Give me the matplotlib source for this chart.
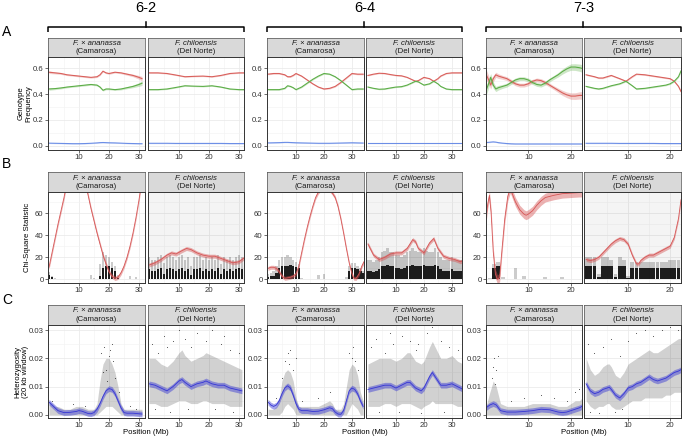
import numpy as np
import matplotlib
matplotlib.use("Agg")
import matplotlib.pyplot as plt
from matplotlib.ticker import FixedLocator

plt.rcParams['font.family'] = ['Liberation Sans', 'DejaVu Sans']

# Chromosome groups, genomes and panel letters
groups = ["6-2", "6-4", "7-3"]
genomes = ["F. × ananassa", "F. chiloensis"]
cultivars = ["(Camarosa)", "(Del Norte)"]
row_letters = ["A", "B", "C"]
row_ylabels = ["Genotype\nFrequency", "Chi-Square Statistic", "Heterozygosity\n(20 kb window)"]
x_label = "Position (Mb)"

# ***********
#  ROW A: genotype frequency (smoothed)
# ***********
a62_cam_x = [0, 2, 4, 6, 8, 10, 12, 14, 16, 17, 18, 19, 20, 22, 24, 26, 28, 30, 31]
a62_cam_red = [.57, .565, .56, .55, .545, .54, .535, .53, .535, .55, .578, .565, .56, .57, .565, .555, .545, .53, .52]
a62_cam_green = [.44, .443, .448, .455, .46, .465, .47, .475, .47, .455, .43, .44, .44, .435, .44, .45, .46, .475, .485]
a62_cam_blue = [.02, .019, .018, .017, .016, .016, .017, .019, .022, .024, .025, .024, .023, .022, .02, .018, .017, .016, .016]
a62_cam_se = [.01, .008, .007, .006, .006, .006, .006, .006, .006, .006, .006, .006, .006, .006, .007, .008, .01, .014, .018]

a62_dn_x = [0, 3, 6, 9, 12, 15, 18, 21, 24, 27, 30, 32]
a62_dn_red = [.565, .565, .56, .548, .535, .538, .54, .535, .545, .56, .565, .565]
a62_dn_green = [.435, .435, .44, .452, .465, .462, .46, .465, .455, .44, .435, .435]
a62_dn_blue = [.019, .019, .019, .018, .018, .018, .018, .018, .018, .017, .017, .017]
a62_dn_se = [.004, .004, .004, .004, .004, .004, .004, .004, .004, .004, .004, .004]

a64_cam_x = [0, 2, 4, 6, 7, 8, 9, 10, 12, 14, 16, 18, 20, 22, 24, 26, 28, 30, 32, 34]
a64_cam_red = [.555, .56, .56, .55, .535, .535, .545, .56, .54, .51, .48, .455, .44, .445, .46, .49, .525, .56, .555, .555]
a64_cam_green = [.435, .435, .435, .445, .465, .46, .45, .435, .455, .485, .515, .54, .56, .555, .535, .505, .47, .435, .44, .44]
a64_cam_blue = [.022, .023, .024, .026, .026, .025, .024, .023, .022, .021, .02, .019, .019, .019, .02, .021, .022, .023, .022, .021]
a64_cam_se = [.005, .005, .005, .005, .005, .005, .005, .005, .005, .005, .005, .005, .005, .005, .005, .005, .005, .005, .005, .005]

a64_dn_x = [0, 2, 4, 6, 8, 10, 12, 14, 16, 17, 18, 20, 22, 23.5, 25, 26, 28, 30, 32, 34]
a64_dn_red = [.545, .555, .562, .56, .552, .545, .542, .53, .51, .5, .505, .53, .52, .5, .52, .54, .56, .565, .565, .565]
a64_dn_green = [.455, .445, .438, .44, .448, .455, .458, .47, .49, .5, .495, .47, .48, .5, .48, .46, .44, .435, .435, .435]
a64_dn_blue = [.018, .018, .018, .018, .018, .018, .018, .018, .018, .018, .018, .018, .018, .018, .018, .018, .018, .018, .018, .018]
a64_dn_se = [.004, .004, .004, .004, .004, .004, .004, .004, .004, .004, .004, .004, .004, .004, .004, .004, .004, .004, .004, .004]

a73_cam_x = [0, 0.6, 1.2, 1.8, 2.4, 3, 4, 5, 6, 7, 8, 9, 10, 11, 12, 13, 14, 15, 16, 17, 18, 19, 20, 21, 22, 22.6]
a73_cam_red = [.56, .52, .47, .52, .55, .54, .53, .52, .5, .48, .47, .47, .48, .5, .51, .505, .49, .47, .45, .43, .41, .395, .385, .385, .39, .39]
a73_cam_green = [.42, .47, .53, .47, .44, .45, .46, .47, .49, .51, .52, .52, .51, .49, .475, .47, .485, .51, .53, .55, .575, .595, .61, .61, .605, .6]
a73_cam_blue = [.025, .026, .028, .03, .028, .024, .02, .017, .015, .014, .014, .014, .014, .014, .014, .014, .014, .014, .014, .014, .014, .014, .014, .014, .014, .014]
a73_cam_se = [.04, .035, .03, .025, .02, .018, .015, .015, .015, .015, .015, .015, .015, .015, .015, .015, .015, .015, .015, .017, .02, .022, .025, .026, .028, .03]

a73_dn_x = [0, 2, 3, 4, 6, 8, 9.5, 11, 12, 14, 16, 18, 19, 20, 21, 22, 22.6]
a73_dn_red = [.55, .535, .525, .525, .545, .52, .5, .535, .555, .55, .54, .53, .525, .52, .5, .46, .42]
a73_dn_green = [.46, .445, .44, .445, .465, .48, .5, .465, .44, .445, .455, .465, .47, .48, .5, .535, .58]
a73_dn_blue = [.019, .019, .019, .019, .019, .018, .018, .018, .018, .018, .018, .017, .017, .017, .017, .017, .017]
a73_dn_se = [.005, .005, .005, .005, .005, .005, .005, .005, .005, .005, .005, .005, .005, .005, .005, .006, .008]

# ***********
#  ROW B: chi-square statistic (smoothed curve + per-site values)
# ***********
b62_cam_x = [0, 1, 2, 3, 4, 5, 6, 12, 12.8, 14, 15, 16, 17, 18, 19, 20, 21, 22, 23, 24, 25, 26, 27, 28, 29, 30, 31]
b62_cam_chi = [11, 24, 37, 50, 62, 74, 88, 88, 79, 64, 53, 42, 32, 22, 14, 7, 3, 1, 2, 6, 12, 20, 30, 42, 56, 72, 90]
b62_cam_se = 2
b62_cam_sx = [0, 1, 2, 3, 4, 5, 6, 7, 8, 9, 10, 11, 12, 13, 14, 15, 16, 17, 18, 19, 20, 21, 22, 23, 24, 25, 26, 27, 28, 29, 30, 31]
b62_cam_core = [4, 2, 0, 0, 0, 0, 0, 0, 0, 0, 0, 0, 0, 0, 0, 0, 0, 3, 10, 12, 12, 10, 8, 1, 0, 0, 0, 0, 0, 0, 0, 0]
b62_cam_mid = [7, 3, 1, 0, 0, 0, 0, 0, 0, 0, 0, 0, 0, 0, 4, 1, 0, 14, 25, 22, 20, 16, 12, 4, 0, 0, 0, 3, 0, 2, 0, 0]
b62_cam_top = [0, 0, 0, 0, 0, 0, 0, 0, 0, 0, 0, 0, 0, 0, 0, 0, 0, 0, 0, 0, 0, 0, 0, 0, 0, 0, 0, 0, 0, 0, 0, 0]

b62_dn_x = [0, 2, 4, 6, 7.5, 9, 11, 12.5, 14, 16, 18, 20, 22, 24, 26, 28, 30, 32]
b62_dn_chi = [13, 15, 18, 22, 24, 23, 26, 28, 27, 24, 22, 21, 21, 19, 17, 15, 16, 20]
b62_dn_se = 1.8
b62_dn_sx = [0, 1, 2, 3, 4, 5, 6, 7, 8, 9, 10, 11, 12, 13, 14, 15, 16, 17, 18, 19, 20, 21, 22, 23, 24, 25, 26, 27, 28, 29, 30, 31, 32]
b62_dn_core = [9, 8, 8, 9, 10, 5, 9, 10, 9, 8, 9, 10, 8, 9, 4, 9, 9, 10, 8, 9, 8, 9, 8, 10, 5, 9, 8, 9, 8, 9, 10, 9, 9]
b62_dn_mid = [20, 18, 18, 20, 22, 15, 20, 22, 20, 18, 20, 22, 18, 20, 12, 20, 20, 22, 18, 20, 18, 20, 18, 22, 14, 20, 18, 20, 18, 20, 22, 20, 20]
b62_dn_top = [79, 79, 79, 79, 79, 79, 79, 79, 79, 79, 79, 79, 79, 79, 79, 79, 79, 79, 79, 79, 79, 79, 79, 79, 79, 79, 79, 79, 79, 79, 79, 79, 79]

b64_cam_x = [0, 1, 2, 3, 4, 5, 6, 7, 8, 9, 10, 11, 12, 13, 14, 15, 16, 17, 18, 19, 20, 21, 22, 23, 24, 25, 26, 27, 28, 29, 30, 30.7, 31.5, 32.5, 33.5, 34.3]
b64_cam_chi = [10, 11, 11, 10, 7, 3, 1, 1.5, 2, 3, 5, 12, 24, 36, 47, 57, 66, 74, 79, 82, 83, 83, 81, 78, 74, 66, 55, 42, 28, 15, 5, 1, 1, 5, 12, 16]
b64_cam_se = 1.8
b64_cam_sx = [0, 1, 2, 3, 4, 5, 6, 7, 8, 9, 10, 11, 12, 13, 14, 15, 16, 17, 18, 19, 20, 21, 22, 23, 24, 25, 26, 27, 28, 29, 30, 31, 32, 33, 34]
b64_cam_core = [2, 3, 3, 6, 10, 12, 12, 12, 13, 12, 11, 10, 0, 0, 0, 0, 0, 0, 0, 0, 0, 0, 0, 0, 0, 0, 0, 0, 0, 8, 10, 10, 9, 8, 6]
b64_cam_mid = [5, 6, 8, 12, 18, 20, 20, 22, 20, 18, 16, 14, 1, 0, 0, 0, 0, 0, 4, 0, 5, 0, 0, 0, 0, 0, 0, 0, 2, 12, 15, 15, 12, 10, 8]
b64_cam_top = [0, 0, 0, 0, 0, 0, 0, 0, 0, 0, 0, 0, 0, 0, 0, 0, 0, 0, 0, 0, 0, 0, 0, 0, 0, 0, 0, 0, 0, 0, 0, 0, 0, 0, 0]

b64_dn_x = [0, 2, 4, 6, 8, 10, 12, 14, 16, 17, 18, 20, 22, 23.5, 25, 27, 29, 31, 33, 34]
b64_dn_chi = [32, 22, 18, 20, 23, 24, 24, 28, 36, 34, 28, 24, 33, 37, 28, 21, 19, 18, 16, 17]
b64_dn_se = 1.8
b64_dn_sx = [0, 1, 2, 3, 4, 5, 6, 7, 8, 9, 10, 11, 12, 13, 14, 15, 16, 17, 18, 19, 20, 21, 22, 23, 24, 25, 26, 27, 28, 29, 30, 31, 32, 33, 34]
b64_dn_core = [8, 8, 7, 8, 9, 12, 12, 13, 12, 12, 10, 10, 9, 10, 12, 12, 13, 12, 12, 12, 13, 12, 12, 12, 13, 12, 9, 8, 8, 8, 9, 8, 8, 8, 7]
b64_dn_mid = [18, 18, 16, 18, 20, 25, 26, 28, 25, 25, 22, 22, 20, 22, 25, 26, 28, 26, 25, 25, 28, 26, 25, 25, 28, 25, 20, 18, 18, 18, 20, 18, 18, 18, 16]
b64_dn_top = [79, 79, 79, 79, 79, 79, 79, 79, 79, 79, 79, 79, 79, 79, 79, 79, 79, 79, 79, 79, 79, 79, 79, 79, 79, 79, 79, 79, 79, 79, 79, 79, 79, 79, 79]

b73_cam_x = [0.1, 0.5, 0.9, 1.3, 1.8, 2.3, 2.8, 3.3, 3.8, 4.5, 5.2, 5.8, 7, 8, 9, 9.5, 10, 11, 12, 13, 14, 16, 18, 20, 22, 22.6]
b73_cam_chi = [55, 68, 76, 60, 25, 5, 0, 2, 25, 55, 75, 82, 70, 63, 59, 58, 59, 62, 67, 71, 74, 76, 77.5, 78, 78.5, 78.5]
b73_cam_se = 4
b73_cam_sx = [0, 1, 2, 3, 4, 5, 6, 7, 8, 9, 10, 11, 12, 13, 14, 15, 16, 17, 18, 19, 20, 21, 22]
b73_cam_core = [3, 0, 10, 12, 0, 0, 0, 0, 0, 0, 0, 0, 0, 0, 0, 0, 0, 0, 0, 0, 0, 0, 0]
b73_cam_mid = [5, 1, 14, 16, 2, 0, 0, 10, 0, 3, 0, 0, 0, 0, 2, 0, 0, 0, 2, 0, 0, 0, 0]
b73_cam_top = [0, 0, 0, 0, 0, 0, 0, 0, 0, 0, 0, 0, 0, 0, 0, 0, 0, 0, 0, 0, 0, 0, 0]

b73_dn_x = [0, 1, 2, 3, 4, 5, 6, 7, 8, 9, 10, 11, 12, 12.5, 13, 14, 15, 16, 17, 18, 19, 20, 21, 22, 22.6]
b73_dn_chi = [18, 17, 18, 20, 24, 28, 32, 35, 37, 36, 32, 22, 14, 14, 17, 20, 22, 22, 24, 26, 28, 30, 38, 55, 72]
b73_dn_se = 1.8
b73_dn_sx = [0, 1, 2, 3, 4, 5, 6, 7, 8, 9, 10, 11, 12, 13, 14, 15, 16, 17, 18, 19, 20, 21, 22]
b73_dn_core = [12, 12, 12, 2, 12, 12, 12, 2, 12, 12, 1, 10, 10, 10, 10, 10, 10, 10, 10, 10, 10, 10, 10]
b73_dn_mid = [20, 20, 20, 5, 20, 20, 18, 5, 20, 18, 3, 16, 16, 16, 16, 16, 16, 16, 16, 16, 18, 18, 18]
b73_dn_top = [79, 79, 79, 79, 79, 79, 79, 79, 79, 79, 79, 79, 79, 79, 79, 79, 79, 79, 79, 79, 79, 79, 79]

# ***********
#  ROW C: heterozygosity (smoothed curve, spread of the windows, scattered windows)
# ***********
c62_cam_x = [0, 1, 2, 3, 5, 7, 9, 10, 11, 13, 14, 15, 16, 17, 18, 19, 20, 21, 22, 23, 24, 25, 26, 28, 30, 31]
c62_cam_het = [.0045, .0035, .0025, .0015, .0008, .0009, .0012, .0015, .0013, .0005, .0004, .0008, .002, .004, .0065, .0085, .0093, .009, .0075, .005, .0025, .0008, .0006, .0006, .0004, .0003]
c62_cam_lo = [0, 0, 0, 0, 0, 0, 0, 0, 0, 0, 0, 0, 0, .001, .002, .003, .003, .003, .002, .001, 0, 0, 0, 0, 0, 0]
c62_cam_hi = [.005, .004, .003, .003, .002, .002, .003, .003, .003, .002, .002, .002, .004, .012, .018, .02, .02, .018, .015, .01, .004, .002, .002, .002, .002, .002]
c62_cam_pt_x = [17.5, 18.5, 19, 20.5, 21.5, 22, 19.5, 18, 1, 8, 12, 27, 29, 23.5, 20, 21]
c62_cam_pt_y = [.022, .024, .016, .023, .019, .013, .012, .015, .005, .004, .003, .003, .002, .008, .021, .025]

c62_dn_x = [0, 2, 4, 6, 8, 10, 11, 12, 14, 16, 18, 19, 21, 23, 25, 27, 29, 31]
c62_dn_het = [.011, .0105, .0095, .0085, .01, .012, .0125, .0115, .01, .011, .0115, .012, .011, .0105, .0105, .0095, .009, .0085]
c62_dn_lo = [.004, .004, .003, .003, .004, .005, .005, .005, .004, .004, .005, .005, .004, .004, .004, .003, .003, .003]
c62_dn_hi = [.02, .02, .018, .017, .019, .022, .023, .021, .019, .02, .021, .022, .021, .02, .019, .018, .017, .016]
c62_dn_pt_x = [1, 3, 5, 8, 10, 12, 14, 16, 19, 21, 24, 27, 30, 2, 7, 13, 22, 28, 6, 25]
c62_dn_pt_y = [.025, .022, .028, .026, .03, .027, .024, .029, .026, .03, .025, .023, .022, .002, .001, .002, .002, .001, .024, .028]

c64_cam_x = [0, 1, 2, 3, 4, 5, 6, 7, 8, 9, 10, 11, 12, 14, 16, 18, 20, 22, 23, 24, 25, 26, 27, 28, 29, 30, 31, 32, 33, 34]
c64_cam_het = [.0045, .0035, .003, .0035, .005, .0075, .0095, .0103, .0095, .007, .004, .002, .0015, .0015, .0012, .0013, .0018, .0025, .0022, .001, .0003, .0002, .0015, .005, .0085, .0095, .009, .0075, .005, .003]
c64_cam_lo = [0, 0, 0, 0, 0, .001, .003, .004, .003, .002, 0, 0, 0, 0, 0, 0, 0, 0, 0, 0, 0, 0, 0, 0, .002, .004, .003, .002, 0, 0]
c64_cam_hi = [.002, .002, .002, .003, .006, .012, .015, .016, .015, .012, .006, .003, .003, .003, .003, .003, .004, .005, .004, .002, .002, .002, .004, .01, .016, .018, .017, .014, .008, .005]
c64_cam_pt_x = [6, 7, 8, 10, 5, 9, 29, 30, 31, 32, 12, 18, 22, 3, 7.5, 30.5]
c64_cam_pt_y = [.019, .022, .023, .02, .013, .016, .022, .02, .019, .016, .005, .006, .008, .006, .018, .024]

c64_dn_x = [0, 2, 4, 6, 8, 10, 12, 14, 15, 17, 19, 20, 22, 23, 24, 26, 28, 30, 32, 34]
c64_dn_het = [.009, .0095, .01, .0105, .0105, .0095, .0105, .0115, .0115, .0095, .0085, .0095, .0135, .015, .0135, .0105, .0105, .011, .01, .009]
c64_dn_lo = [.003, .003, .003, .004, .004, .003, .004, .004, .004, .003, .002, .003, .004, .005, .004, .004, .004, .004, .003, .003]
c64_dn_hi = [.018, .019, .02, .02, .02, .019, .02, .022, .022, .019, .018, .019, .024, .026, .024, .02, .02, .021, .019, .018]
c64_dn_pt_x = [1, 3, 6, 9, 12, 15, 18, 21, 23, 26, 29, 32, 4, 11, 19, 27, 8, 17]
c64_dn_pt_y = [.024, .027, .022, .025, .028, .026, .025, .029, .031, .026, .024, .023, .001, .001, .0005, .001, .029, .023]

c73_cam_x = [0.1, 1, 1.8, 2.5, 3.5, 5, 7, 9, 11, 13, 15, 17, 18, 19, 20, 21, 22, 22.6]
c73_cam_het = [.0025, .0035, .004, .0035, .0015, .001, .001, .0012, .0015, .002, .0018, .001, .0008, .001, .0015, .002, .0025, .003]
c73_cam_lo = [0, 0, 0, 0, 0, 0, 0, 0, 0, 0, 0, 0, 0, 0, 0, 0, 0, 0]
c73_cam_hi = [.003, .008, .012, .01, .004, .003, .003, .003, .004, .004, .004, .003, .003, .003, .004, .005, .005, .006]
c73_cam_pt_x = [1.5, 2, 2.5, 3, 1.8, 6, 9, 13, 16, 19, 21, 22, 2.2]
c73_cam_pt_y = [.013, .02, .016, .021, .017, .005, .006, .007, .006, .005, .008, .009, .011]

c73_dn_x = [0, 1, 2, 3, 4, 5, 5.5, 6, 7, 8, 9, 10, 11, 12, 13, 14, 15, 16, 17, 18, 19, 20, 21, 22, 22.6]
c73_dn_het = [.011, .0085, .0075, .008, .009, .0095, .0098, .009, .007, .006, .0075, .0095, .01, .011, .0115, .0125, .0135, .0125, .012, .0125, .013, .014, .015, .0155, .016]
c73_dn_lo = [.005, .003, .002, .003, .003, .004, .004, .003, .002, .002, .003, .004, .005, .005, .005, .006, .006, .006, .006, .006, .007, .007, .008, .008, .008]
c73_dn_hi = [.02, .016, .014, .015, .017, .018, .018, .017, .014, .013, .015, .018, .019, .02, .021, .022, .023, .022, .022, .023, .024, .025, .026, .027, .027]
c73_dn_pt_x = [0.5, 2, 4, 6, 8, 10, 12, 14, 16, 18, 20, 22, 1, 3, 7, 8.5]
c73_dn_pt_y = [.025, .022, .024, .027, .021, .026, .029, .03, .028, .03, .031, .03, .001, .0005, .001, .002]

# ***********
#  LAYOUT (pixels)
# ***********
W, H = 685, 437
col_px = [[(48, 145), (148, 244)], [(267, 364), (366, 462)], [(486, 582), (584, 681)]]
row_px = [(38, 57, 150), (172, 192, 283), (305, 325, 418)]
xlims = [[(-0.33, 32), (-0.33, 31.7)], [(-0.36, 34.3), (-0.7, 33.6)], [(0.1, 22.6), (-0.5, 22.6)]]
ylims = [(-0.033, 0.688), (-3.2, 79), (-0.0011, 0.0318)]
ymajor = [[0, 0.2, 0.4, 0.6], [0, 20, 40, 60], [0, 0.01, 0.02, 0.03]]
yticklabels = [["0.0", "0.2", "0.4", "0.6"], ["0", "20", "40", "60"], ["0.00", "0.01", "0.02", "0.03"]]
yminor = [[0.1, 0.3, 0.5], [10, 30, 50, 70], [0.005, 0.015, 0.025]]
xmajor = [[10, 20, 30], [10, 20, 30], [10, 20]]
xminor = [[5, 15, 25], [5, 15, 25], [5, 15]]

FS = 5.6
red_a, green_a, blue_a = "#D9605C", "#5DAE48", "#6C8EE6"
red_b = "#D65555"
blue_c = "#3535D5"

fig = plt.figure(figsize=(W / 100, H / 100), dpi=100)


def px_axes(x0, x1, y0, y1):
    return fig.add_axes([x0 / W, 1 - y1 / H, (x1 - x0) / W, (y1 - y0) / H])


# Overlay for brackets, letters and shared labels
ov = fig.add_axes([0, 0, 1, 1])
ov.set_xlim(0, W)
ov.set_ylim(H, 0)
ov.axis("off")

freq = [[(a62_cam_x, a62_cam_red, a62_cam_green, a62_cam_blue, a62_cam_se),
         (a62_dn_x, a62_dn_red, a62_dn_green, a62_dn_blue, a62_dn_se)],
        [(a64_cam_x, a64_cam_red, a64_cam_green, a64_cam_blue, a64_cam_se),
         (a64_dn_x, a64_dn_red, a64_dn_green, a64_dn_blue, a64_dn_se)],
        [(a73_cam_x, a73_cam_red, a73_cam_green, a73_cam_blue, a73_cam_se),
         (a73_dn_x, a73_dn_red, a73_dn_green, a73_dn_blue, a73_dn_se)]]
chi = [[(b62_cam_x, b62_cam_chi, b62_cam_se, b62_cam_sx, b62_cam_core, b62_cam_mid, b62_cam_top),
        (b62_dn_x, b62_dn_chi, b62_dn_se, b62_dn_sx, b62_dn_core, b62_dn_mid, b62_dn_top)],
       [(b64_cam_x, b64_cam_chi, b64_cam_se, b64_cam_sx, b64_cam_core, b64_cam_mid, b64_cam_top),
        (b64_dn_x, b64_dn_chi, b64_dn_se, b64_dn_sx, b64_dn_core, b64_dn_mid, b64_dn_top)],
       [(b73_cam_x, b73_cam_chi, b73_cam_se, b73_cam_sx, b73_cam_core, b73_cam_mid, b73_cam_top),
        (b73_dn_x, b73_dn_chi, b73_dn_se, b73_dn_sx, b73_dn_core, b73_dn_mid, b73_dn_top)]]
het = [[(c62_cam_x, c62_cam_het, c62_cam_lo, c62_cam_hi, c62_cam_pt_x, c62_cam_pt_y),
        (c62_dn_x, c62_dn_het, c62_dn_lo, c62_dn_hi, c62_dn_pt_x, c62_dn_pt_y)],
       [(c64_cam_x, c64_cam_het, c64_cam_lo, c64_cam_hi, c64_cam_pt_x, c64_cam_pt_y),
        (c64_dn_x, c64_dn_het, c64_dn_lo, c64_dn_hi, c64_dn_pt_x, c64_dn_pt_y)],
       [(c73_cam_x, c73_cam_het, c73_cam_lo, c73_cam_hi, c73_cam_pt_x, c73_cam_pt_y),
        (c73_dn_x, c73_dn_het, c73_dn_lo, c73_dn_hi, c73_dn_pt_x, c73_dn_pt_y)]]

for c in range(3):
    for g in range(2):
        x0, x1 = col_px[c][g]
        for r in range(3):
            s0, p0, p1 = row_px[r]
            # Facet strip
            st = px_axes(x0, x1, s0, p0)
            st.set_facecolor("#D9D9D9")
            st.set_xticks([])
            st.set_yticks([])
            for sp in st.spines.values():
                sp.set_color("#4D4D4D")
                sp.set_linewidth(0.5)
            st.text(0.5, 0.70, genomes[g], style="italic", fontsize=FS, ha="center", va="center",
                    color="#1A1A1A", transform=st.transAxes)
            st.text(0.5, 0.27, cultivars[g], fontsize=FS, ha="center", va="center",
                    color="#1A1A1A", transform=st.transAxes)
            # Panel
            ax = px_axes(x0, x1, p0, p1)
            ax.set_xlim(*xlims[c][g])
            ax.set_ylim(*ylims[r])
            ax.set_axisbelow(True)
            ax.xaxis.set_major_locator(FixedLocator(xmajor[c]))
            ax.xaxis.set_minor_locator(FixedLocator(xminor[c]))
            ax.yaxis.set_major_locator(FixedLocator(ymajor[r]))
            ax.yaxis.set_minor_locator(FixedLocator(yminor[r]))
            ax.grid(which="major", color="#EBEBEB", lw=0.6)
            ax.grid(which="minor", color="#F2F2F2", lw=0.4)
            ax.tick_params(which="major", length=2, width=0.5, color="#333333", pad=1.2,
                           labelsize=FS, labelcolor="#333333")
            ax.tick_params(which="minor", length=0)
            if g == 0:
                ax.set_yticklabels(yticklabels[r])
            else:
                ax.tick_params(axis="y", which="major", length=0, labelleft=False)
            for sp in ax.spines.values():
                sp.set_color("#333333")
                sp.set_linewidth(0.7)

            if r == 0:
                x, red, green, blue, se = [np.array(v) for v in freq[c][g]]
                for y, col in ((red, red_a), (green, green_a)):
                    ax.fill_between(x, y - se, y + se, color=col, alpha=0.3, lw=0)
                    ax.plot(x, y, color=col, lw=0.8)
                ax.fill_between(x, blue - 0.003, blue + 0.003, color=blue_a, alpha=0.3, lw=0)
                ax.plot(x, blue, color=blue_a, lw=0.8)
            elif r == 1:
                x, y, se, sx, core, mid, top = [np.array(v) for v in chi[c][g]]
                ax.bar(sx, top, width=1.0, color="#000000", alpha=0.045, lw=0)
                ax.bar(sx, mid, width=0.9, color="#000000", alpha=0.2, lw=0)
                ax.bar(sx, core, width=0.9, color="#000000", alpha=0.85, lw=0)
                ax.fill_between(x, y - se, y + se, color=red_b, alpha=0.45, lw=0)
                ax.plot(x, y, color=red_b, lw=0.6)
            else:
                x, y, lo, hi, px, py = [np.array(v) for v in het[c][g]]
                ax.fill_between(x, lo, hi, color="#000000", alpha=0.18, lw=0)
                ax.scatter(px, py, s=0.6, color="#000000", alpha=0.7, lw=0)
                ax.fill_between(x, y - 0.001, y + 0.001, color=blue_c, alpha=0.45, lw=0)
                ax.plot(x, y, color=blue_c, lw=0.6)

    # Bracket and chromosome title over each column
    bx0 = col_px[c][0][0]
    bx1 = col_px[c][1][1]
    bxm = (bx0 + bx1) / 2
    ov.plot([bx0, bx0, bx1, bx1], [32, 27, 27, 32], color="black", lw=1.1, solid_capstyle="butt")
    ov.plot([bxm, bxm], [22, 27], color="black", lw=1.1)
    ov.text(bxm, 8, groups[c], fontsize=10.5, ha="center", va="center")
    ov.text(bxm, 432, x_label, fontsize=FS, ha="center", va="center")

# Row letters and y-axis titles
letter_y = [32, 164, 300]
ylabel_x = [25, 28, 22]
for r in range(3):
    ov.text(7, letter_y[r], row_letters[r], fontsize=10, ha="center", va="center")
    yc = (row_px[r][1] + row_px[r][2]) / 2
    ov.text(ylabel_x[r], yc, row_ylabels[r], fontsize=FS, rotation=90, ha="center", va="center",
            linespacing=1.1)

fig.savefig("out.png", dpi=100)
